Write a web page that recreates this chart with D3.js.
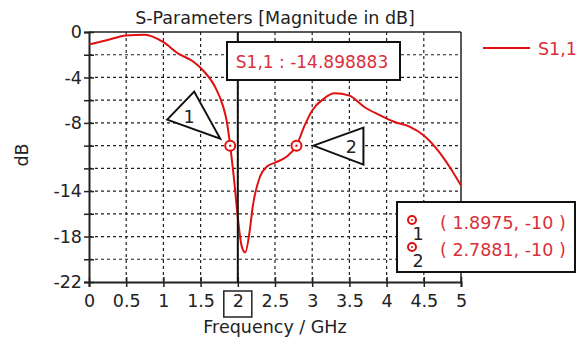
<!DOCTYPE html>
<html>
<head>
<meta charset="utf-8">
<script src="https://cdn.jsdelivr.net/npm/d3@7"></script>
<style>
  body { margin: 0; background: #fff; }
  text { font-family: "DejaVu Sans", Verdana, sans-serif; }
</style>
</head>
<body>
<script>
// Størrelse
const w = 577;
const h = 345;

// Plot-område
const plotLeft = 89, plotRight = 461, plotTop = 32, plotBottom = 282;
const fs = 17.5; // skriftstørrelse

// Data
const freq = [0, 0.25, 0.5, 0.75, 1.0, 1.2, 1.4, 1.55, 1.7, 1.8, 1.85, 1.8975, 1.95, 2.0, 2.05, 2.1, 2.16, 2.2, 2.3, 2.4, 2.5, 2.65, 2.7881, 2.9, 3.0, 3.15, 3.3, 3.5, 3.7, 3.9, 4.1, 4.3, 4.5, 4.7, 4.85, 5.0];
const s11 = [-1.1, -0.7, -0.3, -0.25, -0.9, -1.9, -2.6, -3.5, -4.9, -6.5, -7.8, -10, -13, -16.3, -18.8, -19.4, -17.5, -15.4, -12.7, -11.8, -11.5, -11.0, -10, -8.2, -6.9, -5.9, -5.4, -5.6, -6.6, -7.3, -7.9, -8.3, -9.1, -10.5, -11.9, -13.5];

// Akse-ticks
const xTicks = [0, 0.5, 1, 1.5, 2, 2.5, 3, 3.5, 4, 4.5, 5];
const yTicks = [0, -2, -4, -6, -8, -10, -12, -14, -16, -18, -20, -22];
const yLabels = [0, -4, -8, -14, -18, -22];

// Markører
const markerNames = ["1", "2"];
const markerFreq = [1.8975, 2.7881];
const markerVal = [-10, -10];
const cursorFreq = 2;
const cursorVal = "-14.898883";

const svg = d3.select("body").append("svg").attr("width", w).attr("height", h);

const xScale = d3.scaleLinear().domain([0, 5]).range([plotLeft, plotRight]);
const yScale = d3.scaleLinear().domain([-22, 0]).range([plotBottom, plotTop]);

const red = "#e01010";
const redText = "#d8303a";

// Gitter
svg.append("g").selectAll("line").data(xTicks.slice(1, -1)).enter().append("line")
  .attr("x1", d => xScale(d)).attr("x2", d => xScale(d))
  .attr("y1", plotTop).attr("y2", plotBottom)
  .attr("stroke", "#222").attr("stroke-width", 1.2).attr("stroke-dasharray", "3,3");
svg.append("g").selectAll("line").data(yTicks.slice(1, -1)).enter().append("line")
  .attr("x1", plotLeft).attr("x2", plotRight)
  .attr("y1", d => yScale(d)).attr("y2", d => yScale(d))
  .attr("stroke", "#222").attr("stroke-width", 1.2).attr("stroke-dasharray", "3,3");

// Ramme
svg.append("line").attr("x1", plotLeft).attr("x2", plotRight).attr("y1", plotTop).attr("y2", plotTop)
  .attr("stroke", "#222").attr("stroke-width", 1.5);
svg.append("line").attr("x1", plotRight).attr("x2", plotRight).attr("y1", plotTop).attr("y2", plotBottom)
  .attr("stroke", "#222").attr("stroke-width", 1.5);

// Akser
const xAxis = d3.axisBottom(xScale).tickValues(xTicks).tickSize(5).tickFormat(d3.format("~g"));
const gx = svg.append("g").attr("transform", "translate(0," + plotBottom + ")").call(xAxis);
gx.select(".domain").attr("stroke", "#222").attr("stroke-width", 2);
gx.selectAll(".tick line").attr("stroke", "#222").attr("stroke-width", 1.5).attr("y1", -5);
gx.selectAll(".tick text").attr("font-size", fs).attr("fill", "#222").attr("y", 0).attr("dy", 25);

const yAxis = d3.axisLeft(yScale).tickValues(yTicks).tickSize(5)
  .tickFormat(d => yLabels.includes(d) ? d : "");
const gy = svg.append("g").attr("transform", "translate(" + plotLeft + ",0)").call(yAxis);
gy.select(".domain").attr("stroke", "#222").attr("stroke-width", 2);
gy.selectAll(".tick line").attr("stroke", "#222").attr("stroke-width", 1.5).attr("x1", 5);
gy.selectAll(".tick text").attr("font-size", fs).attr("fill", "#222").attr("x", -7);

// Boks om "2" på x-aksen
svg.append("rect").attr("x", xScale(cursorFreq) - 14).attr("y", 291)
  .attr("width", 28).attr("height", 26)
  .attr("fill", "none").attr("stroke", "#222").attr("stroke-width", 1.5);

// Kurve
const line = d3.line().x((d, i) => xScale(freq[i])).y(d => yScale(d)).curve(d3.curveMonotoneX);
svg.append("path").datum(s11).attr("d", line)
  .attr("fill", "none").attr("stroke", red).attr("stroke-width", 2);

// Cursor-linje
svg.append("line").attr("x1", xScale(cursorFreq)).attr("x2", xScale(cursorFreq))
  .attr("y1", plotTop).attr("y2", plotBottom).attr("stroke", "#111").attr("stroke-width", 2);

// Cursor-boks
svg.append("rect").attr("x", 227).attr("y", 42).attr("width", 173).attr("height", 38)
  .attr("fill", "#fff").attr("stroke", "#111").attr("stroke-width", 2);
svg.append("text").attr("x", 312).attr("y", 68).attr("text-anchor", "middle")
  .attr("font-size", fs - 0.5).attr("fill", redText).text("S1,1 : " + cursorVal);

// Markør-trekanter
const tri = [
  [[-63, -26], [-36, -54], [-10, -7]],
  [[17, 0], [67, -18], [67, 19]]
];
const triText = [[-41, -23], [55, 7]];
markerFreq.forEach((f, i) => {
  const cx = xScale(f), cy = yScale(markerVal[i]);
  svg.append("polygon")
    .attr("points", tri[i].map(p => (cx + p[0]) + "," + (cy + p[1])).join(" "))
    .attr("fill", "#fff").attr("stroke", "#111").attr("stroke-width", 2);
  svg.append("text").attr("x", cx + triText[i][0]).attr("y", cy + triText[i][1])
    .attr("text-anchor", "middle").attr("font-size", fs).attr("fill", "#222").text(markerNames[i]);
  svg.append("circle").attr("cx", cx).attr("cy", cy).attr("r", 5)
    .attr("fill", "#fff").attr("stroke", red).attr("stroke-width", 2);
  svg.append("circle").attr("cx", cx).attr("cy", cy).attr("r", 1.2).attr("fill", red);
});

// Markør-tabel
svg.append("rect").attr("x", 397).attr("y", 202).attr("width", 178).attr("height", 70)
  .attr("fill", "#fff").attr("stroke", "#111").attr("stroke-width", 2);
markerFreq.forEach((f, i) => {
  const yy = 220 + i * 27;
  svg.append("circle").attr("cx", 412).attr("cy", yy).attr("r", 4)
    .attr("fill", "#fff").attr("stroke", red).attr("stroke-width", 2);
  svg.append("circle").attr("cx", 412).attr("cy", yy).attr("r", 1).attr("fill", red);
  svg.append("text").attr("x", 418).attr("y", yy + 20).attr("text-anchor", "middle")
    .attr("font-size", fs).attr("fill", "#222").text(markerNames[i]);
  svg.append("text").attr("x", 440).attr("y", yy + 9)
    .attr("font-size", fs).attr("fill", redText)
    .text("( " + f + ", " + markerVal[i] + " )");
});

// Legende
svg.append("line").attr("x1", 483).attr("x2", 530).attr("y1", 48).attr("y2", 48)
  .attr("stroke", red).attr("stroke-width", 2);
svg.append("text").attr("x", 538).attr("y", 55).attr("font-size", fs)
  .attr("fill", redText).text("S1,1");

// Titler
svg.append("text").attr("x", 275).attr("y", 24).attr("text-anchor", "middle")
  .attr("font-size", fs).attr("fill", "#222").text("S-Parameters [Magnitude in dB]");
svg.append("text").attr("x", 275).attr("y", 333).attr("text-anchor", "middle")
  .attr("font-size", fs).attr("fill", "#222").text("Frequency / GHz");
svg.append("text").attr("transform", "translate(28,155) rotate(-90)").attr("text-anchor", "middle")
  .attr("font-size", fs).attr("fill", "#222").text("dB");
</script>
</body>
</html>
